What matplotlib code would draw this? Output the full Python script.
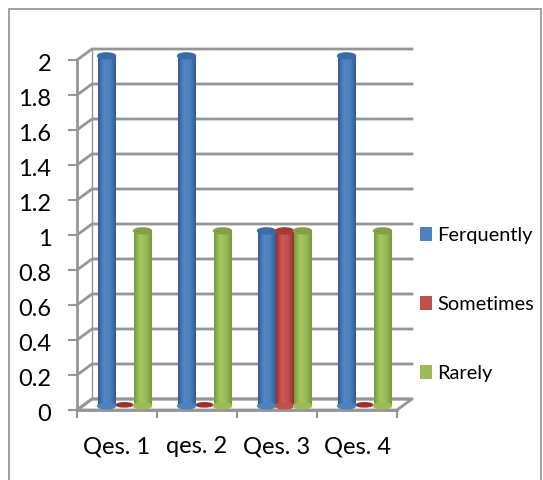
import numpy as np
import matplotlib
matplotlib.use("Agg")
import matplotlib.pyplot as plt
from matplotlib.patches import Ellipse, Patch, Polygon, Rectangle
from matplotlib.colors import LinearSegmentedColormap
from matplotlib.transforms import ScaledTranslation

categories = ["Qes. 1", "qes. 2", "Qes. 3", "Qes. 4"]
series_names = ["Ferquently", "Sometimes", "Rarely"]
frequently = [2, 2, 1, 2]
sometimes = [0, 0, 1, 0]
rarely = [1, 1, 1, 1]
y_ticks = [0, 0.2, 0.4, 0.6, 0.8, 1, 1.2, 1.4, 1.6, 1.8, 2]
y_labels = ["0", "0.2", "0.4", "0.6", "0.8", "1", "1.2", "1.4", "1.6", "1.8", "2"]

# legend colour, dark edge, light middle, top cap
colores = [
    ("#4f81bd", "#2f5f94", "#5089c8", "#3a6ca3"),
    ("#c0504d", "#98312f", "#cf5a57", "#a53a38"),
    ("#9bbb59", "#7a9a3c", "#a6c85f", "#84a046"),
]
GRIS = "#969696"

plt.rcParams["font.family"] = ["Lato", "DejaVu Sans"]

W, H = 543, 480
fig = plt.figure(figsize=(W / 100, H / 100), dpi=100)

# borde exterior del recuadro
fig.add_artist(Rectangle((9 / W, -0.02), 532 / W, 1.02 - 9 / H, transform=fig.transFigure,
                         fill=False, ec="#a0a0a0", lw=1.4))

# la cara frontal del grafico 3D
left, right, top, bottom = 77, 397, 60, 410
ax = fig.add_axes([left / W, 1 - bottom / H, (right - left) / W, (bottom - top) / H])
ax.set_xlim(0, 4)
ax.set_ylim(0, 2)
ax.patch.set_alpha(0)

px = 4 / (right - left)
py = 2 / (bottom - top)
dx, dy = 15 * px, 11 * py  # profundidad

# paredes: lineas de la rejilla
for v in y_ticks:
    ax.plot([0, dx, 4 + dx], [v, v + dy, v + dy], color=GRIS, lw=2, clip_on=False, zorder=1,
            solid_joinstyle="miter")
ax.plot([dx, dx], [dy, 2 + dy], color=GRIS, lw=1, clip_on=False, zorder=1)
ax.add_patch(Polygon([(0, 0), (dx, dy), (4 + dx, dy), (4, 0)], closed=True, fill=False,
                     ec=GRIS, lw=2, clip_on=False, zorder=1))

# barras cilindricas
grosor = 18 * px
alto_tapa = 6 * py
for s, valores in enumerate([frequently, sometimes, rarely]):
    borde, medio_osc, medio, tapa = colores[s][1], colores[s][0], colores[s][2], colores[s][3]
    cmap = LinearSegmentedColormap.from_list("c", [borde, medio, medio_osc, borde])
    for i, v in enumerate(valores):
        x0 = i + 0.5 + dx / 2 + (s - 1.5) * grosor
        y0 = dy / 2 - 0.008
        xc = x0 + grosor / 2
        if v == 0:
            ax.add_patch(Ellipse((xc, y0 + 0.006), grosor * 0.9, alto_tapa * 0.7, color=borde,
                                 clip_on=False, zorder=3))
            continue
        y1 = v + dy / 2 - 0.008
        img = ax.imshow(np.linspace(0, 1, 32).reshape(1, -1), cmap=cmap, aspect="auto",
                        extent=[x0, x0 + grosor, y0, y1], zorder=3 + i * 0.1 + s * 0.01, clip_on=False)
        fondo = Ellipse((xc, y0), grosor, alto_tapa, color=medio_osc, clip_on=False,
                        zorder=3 + i * 0.1 + s * 0.01)
        ax.add_patch(fondo)
        ax.add_patch(Ellipse((xc, y1), grosor, alto_tapa, color=tapa, clip_on=False,
                             zorder=3.005 + i * 0.1 + s * 0.01))
ax.set_xlim(0, 4)
ax.set_ylim(0, 2)

for lado in ["top", "right"]:
    ax.spines[lado].set_visible(False)
for lado in ["left", "bottom"]:
    ax.spines[lado].set_color(GRIS)
    ax.spines[lado].set_linewidth(2)

ax.set_yticks(y_ticks)
ax.set_yticklabels(y_labels, fontsize=17, color="black")
ax.tick_params(axis="y", length=6.5, width=1.5, color=GRIS, pad=12)
# las etiquetas del eje y van un poco por debajo de su marca
bajar = ScaledTranslation(0, -2.5 / 100, fig.dpi_scale_trans)
for etiqueta in ax.get_yticklabels():
    etiqueta.set_transform(etiqueta.get_transform() + bajar)
ax.set_xticks(range(5))
ax.set_xticklabels([])
ax.tick_params(axis="x", length=5.5, width=1.5, color=GRIS)
ax.set_xticks(np.arange(4) + 0.5, minor=True)
ax.set_xticklabels(categories, minor=True, fontsize=17, color="black")
ax.tick_params(axis="x", which="minor", length=0, pad=19)

# leyenda
handles = [Patch(facecolor=c[0], edgecolor="none") for c in colores]
fig.legend(handles, series_names, loc="upper left", bbox_to_anchor=(420 / W, 1 - 227 / H),
           frameon=False, fontsize=14.4, handlelength=0.62, handleheight=0.68, handletextpad=0.25,
           labelspacing=2.6, borderpad=0, borderaxespad=0)

fig.savefig("out.png", dpi=100)
